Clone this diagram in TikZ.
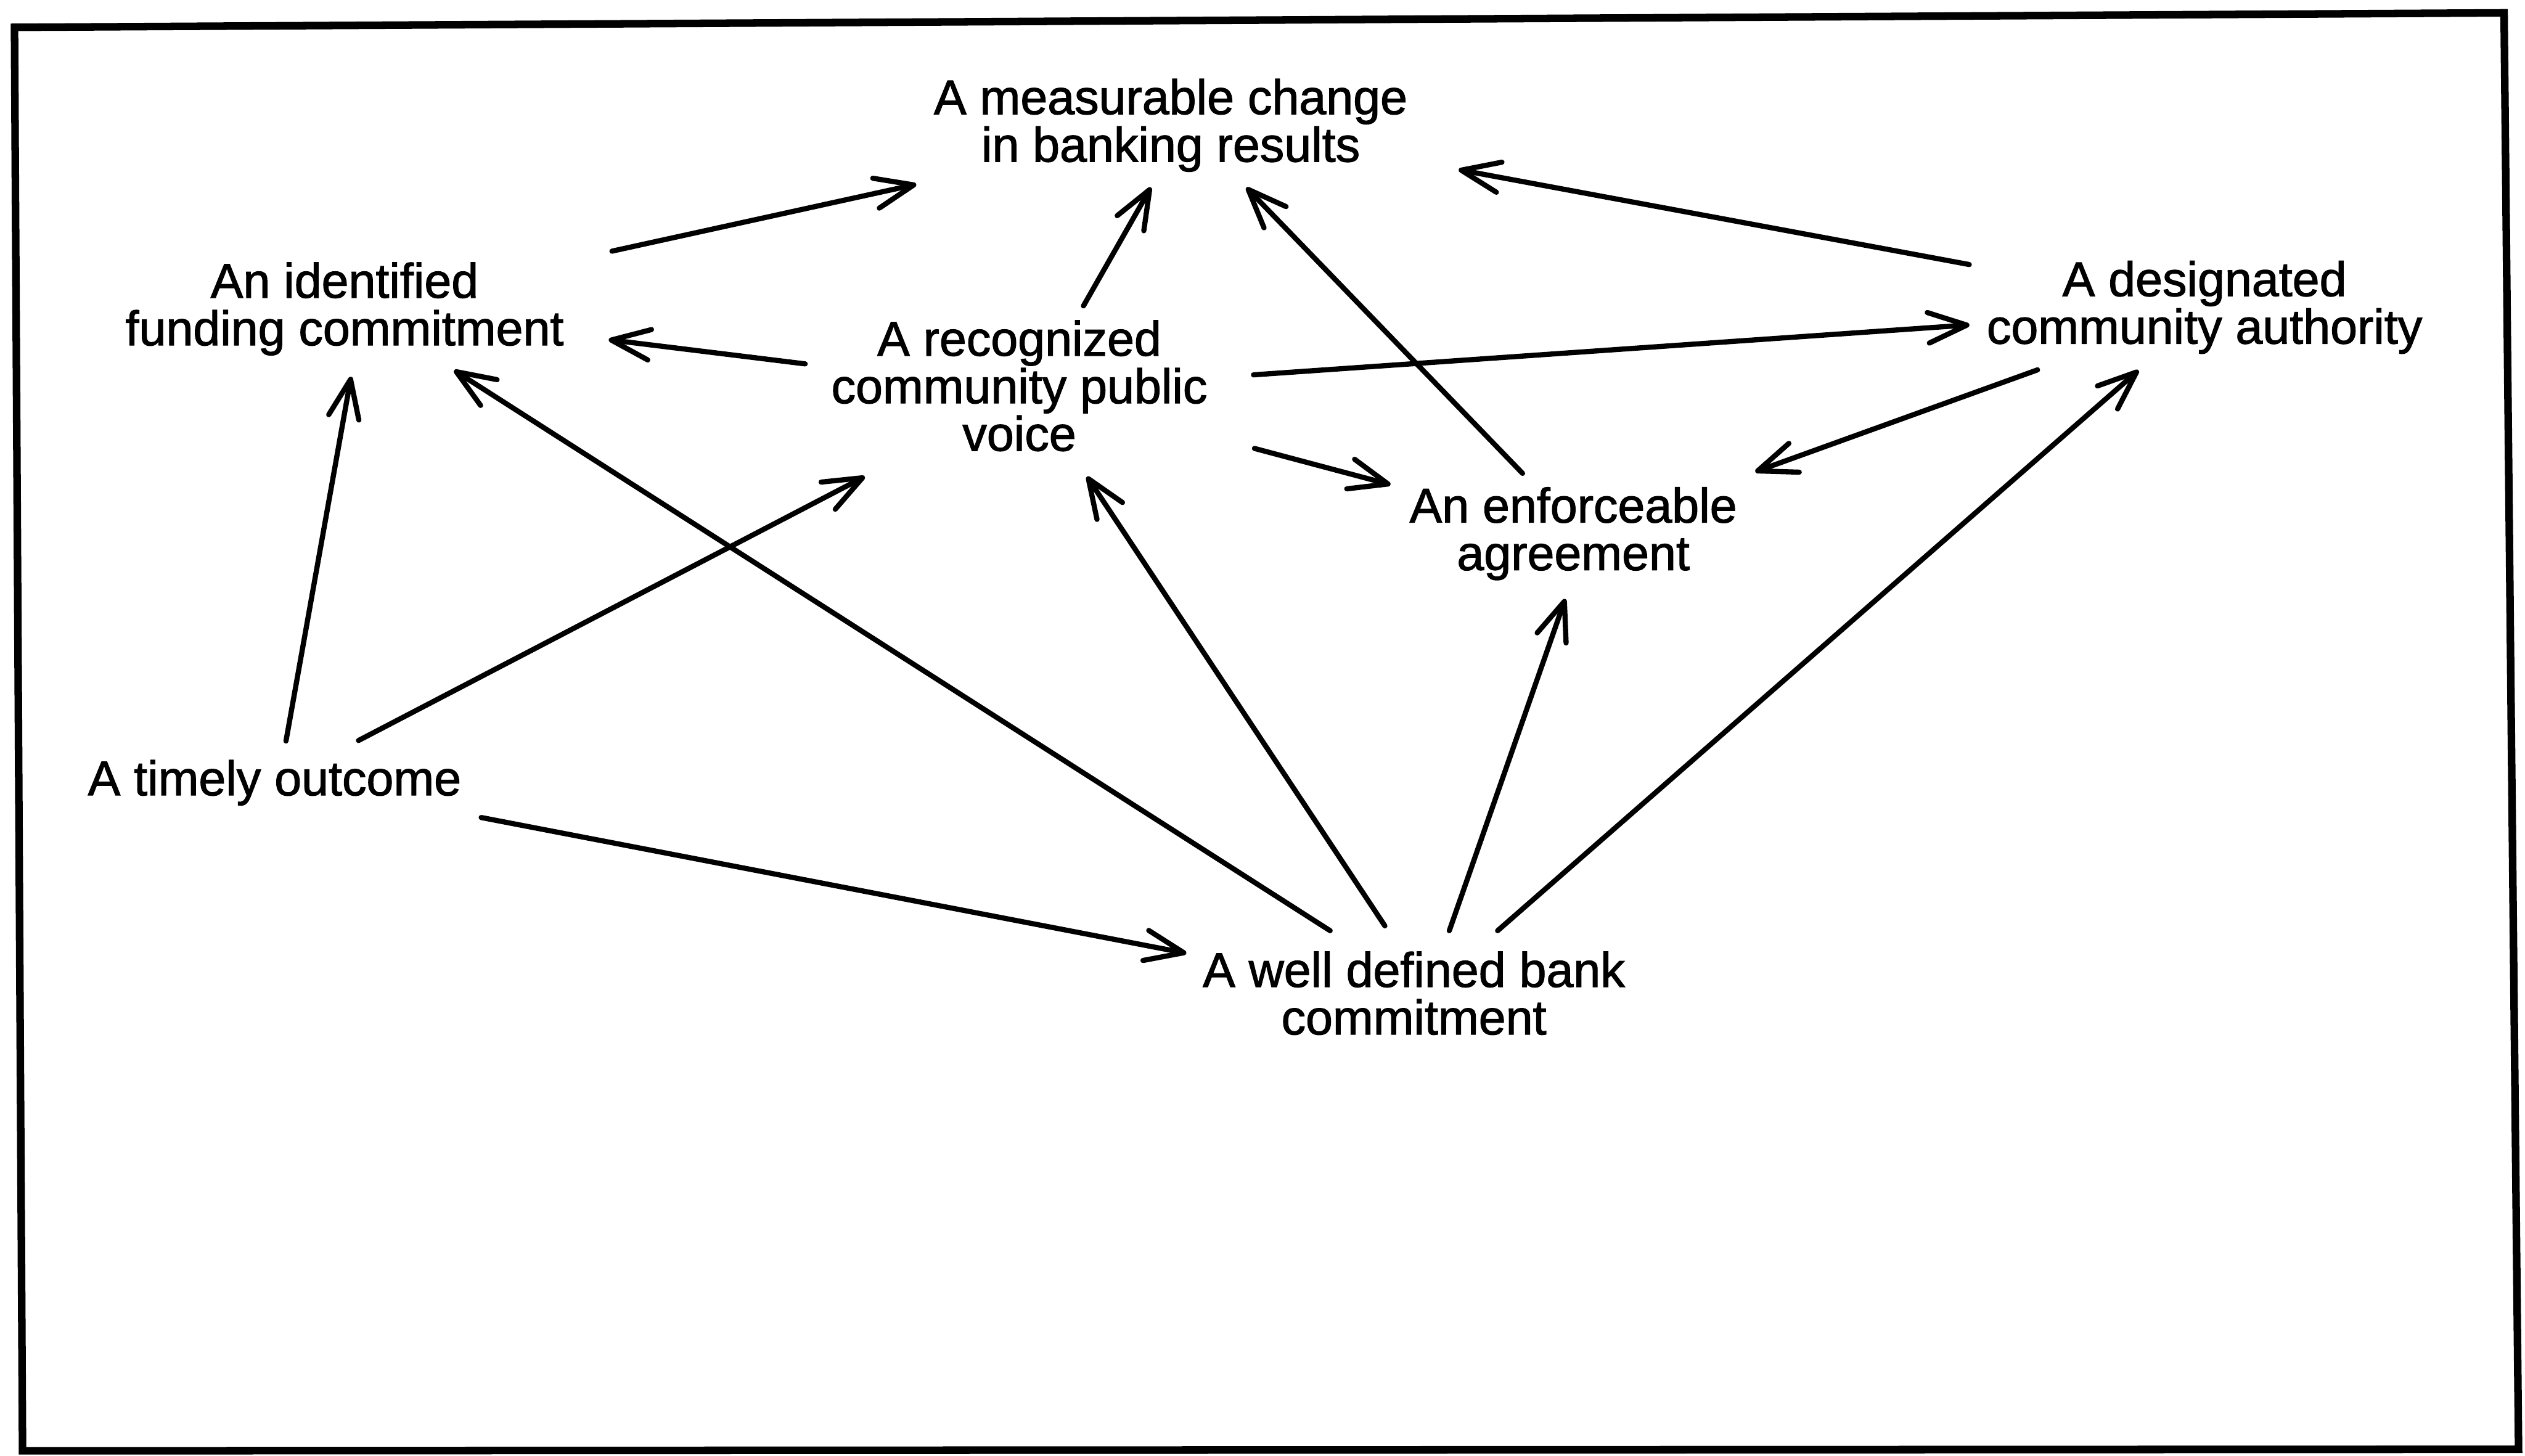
\documentclass[tikz,border=0pt]{standalone}
\usepackage{fontspec}
\usetikzlibrary{arrows.meta,calc}
\newfontfamily\labfamily{Liberation Sans}[FakeBold=1.5]
\newcommand\nodefont{\labfamily\fontsize{8.6pt}{8.4pt}\selectfont}
\begin{document}
\begin{tikzpicture}[x=0.1mm,y=-0.1mm,
  lbl/.style={anchor=north,inner sep=0pt,outer sep=0pt,align=center,font=\nodefont},
  arr/.style={line width=0.32mm,line cap=round,
    -{Straight Barb[length=2.4mm,width=1.9mm,round]}},
  frame/.style={line width=0.47mm,line join=miter}]
\useasboundingbox (0,0) rectangle (1568,904);
% outer border
\draw[frame] (9,17) -- (1555,8) -- (1564,900) -- (14,901) -- cycle;

% statements (placed by the top of their first line)
\node[lbl] (meas)    at (727,49)    {A measurable change\\in banking results};
\node[lbl] (ident)   at (214,163)   {An identified\\funding commitment};
\node[lbl] (recog)   at (633,199)   {A recognized\\community public\\voice};
\node[lbl] (design)  at (1369,162)  {A designated\\community authority};
\node[lbl] (enforce) at (977,302.6) {An enforceable\\agreement};
\node[lbl] (timely)  at (170.5,472) {A timely outcome};
\node[lbl] (well)    at (878,591)   {A well defined bank\\commitment};

% influences
\draw[arr] ($(ident.north)+(166,-7)$)     -- ($(meas.north)+(-158,65.5)$);
\draw[arr] ($(recog.north)+(39.8,-9)$)    -- ($(meas.north)+(-12.3,67.4)$);
\draw[arr] ($(enforce.north)+(-31.5,-8.6)$) -- ($(meas.north)+(47,67.5)$);
\draw[arr] ($(design.north)+(-146.1,2.3)$) -- ($(meas.north)+(178.8,56.4)$);
\draw[arr] ($(recog.north)+(-133,27)$)    -- ($(ident.north)+(164,48)$);
\draw[arr] ($(recog.north)+(145.4,33.8)$) -- ($(design.north)+(-146,39.8)$);
\draw[arr] ($(recog.north)+(146,79.5)$)   -- ($(enforce.north)+(-113.5,-1.6)$);
\draw[arr] ($(design.north)+(-103.7,67.7)$) -- ($(enforce.north)+(113,-9.6)$);
\draw[arr] ($(timely.north)+(7.1,-11.8)$) -- ($(ident.north)+(4,71)$);
\draw[arr] ($(timely.north)+(52.1,-12.1)$) -- ($(recog.north)+(-96,97)$);
\draw[arr] ($(timely.north)+(128.3,35.7)$) -- ($(well.north)+(-141.3,1)$);
\draw[arr] ($(well.north)+(-52,-13)$)     -- ($(ident.north)+(68,67)$);
\draw[arr] ($(well.north)+(-18,-16)$)     -- ($(recog.north)+(42,97)$);
\draw[arr] ($(well.north)+(22,-13)$)      -- ($(enforce.north)+(-5,69.4)$);
\draw[arr] ($(well.north)+(52,-13)$)      -- ($(design.north)+(-41,68)$);
\end{tikzpicture}
\end{document}
